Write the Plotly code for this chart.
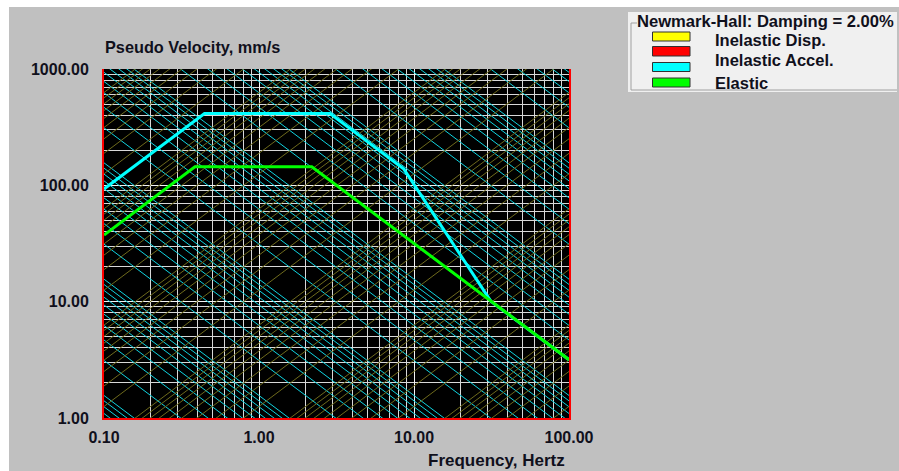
import numpy as np
import plotly.graph_objects as go

# ---------------- data ----------------
freq_tick_vals = [0.1, 1, 10, 100]
freq_tick_text = ["0.10", "1.00", "10.00", "100.00"]
vel_tick_vals = [1, 10, 100, 1000]
vel_tick_text = ["1.00", "10.00", "100.00", "1000.00"]

elastic_freq = [0.1, 0.386, 2.19, 100]
elastic_vel = [37.4, 144.6, 144.6, 3.17]

inel_accel_freq = [0.1, 0.445, 2.87, 8.6, 31.3, 100]
inel_accel_vel = [93.0, 414.0, 414.0, 138.0, 10.1, 3.17]

# tripartite grid levels
grid_digits = [1, 2, 3, 4, 5, 6, 7, 8, 9]
accel_exponents = [-5, -4, -3, -2, -1, 0, 1]   # g
disp_exponents = [-3, -2, -1, 0, 1, 2, 3]      # mm
G_MM = 9806.65

legend_title = "Newmark-Hall: Damping = 2.00%"
legend_labels = ["Inelastic Disp.", "Inelastic Accel.", "Elastic"]

# ---------------- geometry helpers (screen px, page margin removed) ----------------
W, H = 899, 471
L, R, T, B = 104, 569, 69, 418


def px(x):
    return (x - L) / (R - L)


def py(y):
    return (B - y) / (B - T)


FONT = "Liberation Sans, Arial, sans-serif"
TXT = "#10101c"

fig = go.Figure()

# diagonal acceleration lines (slope -1)
fx = [0.03, 300]
ax_x, ax_y = [], []
for e in accel_exponents:
    for d in grid_digits:
        a = d * 10.0 ** e * G_MM
        ax_x += fx + [None]
        ax_y += [a / (2 * np.pi * f) for f in fx] + [None]
fig.add_trace(go.Scatter(x=ax_x, y=ax_y, mode="lines",
                         line=dict(color="#10d4e0", width=1),
                         hoverinfo="skip", showlegend=False))

# diagonal displacement lines (slope +1)
dx_x, dx_y = [], []
for e in disp_exponents:
    for d in grid_digits:
        dd = d * 10.0 ** e
        dx_x += fx + [None]
        dx_y += [2 * np.pi * f * dd for f in fx] + [None]
fig.add_trace(go.Scatter(x=dx_x, y=dx_y, mode="lines",
                         line=dict(color="#6e6a1c", width=1),
                         hoverinfo="skip", showlegend=False))

# spectra
fig.add_trace(go.Scatter(x=inel_accel_freq, y=inel_accel_vel, mode="lines",
                         line=dict(color="#00ffff", width=3),
                         showlegend=False))
fig.add_trace(go.Scatter(x=elastic_freq, y=elastic_vel, mode="lines",
                         line=dict(color="#00ff00", width=3),
                         showlegend=False))

minor_f = [d * 10.0 ** e for e in [-1, 0, 1] for d in grid_digits[1:]]
minor_v = [d * 10.0 ** e for e in [0, 1, 2] for d in grid_digits[1:]]

fig.update_xaxes(type="log", range=[-1, 2],
                 tickvals=freq_tick_vals, ticktext=freq_tick_text,
                 tickfont=dict(family=FONT, size=16, color=TXT, weight="bold"),
                 ticks="outside", ticklen=4, tickcolor="rgba(0,0,0,0)",
                 showgrid=True, gridcolor="#f4f4f4", gridwidth=1,
                 minor=dict(tickvals=minor_f, showgrid=True, gridcolor="#d8d8d8",
                            gridwidth=1, ticks=""),
                 showline=True, linecolor="#ff0000", linewidth=2, mirror=False,
                 zeroline=False)
fig.update_yaxes(type="log", range=[0, 3],
                 tickvals=vel_tick_vals, ticktext=vel_tick_text,
                 tickfont=dict(family=FONT, size=16, color=TXT, weight="bold"),
                 ticks="outside", ticklen=10, tickcolor="rgba(0,0,0,0)",
                 showgrid=True, gridcolor="#f4f4f4", gridwidth=1,
                 minor=dict(tickvals=minor_v, showgrid=True, gridcolor="#d8d8d8",
                            gridwidth=1, ticks=""),
                 showline=True, linecolor="#ff0000", linewidth=2, mirror=True,
                 zeroline=False)

shapes = []
# white window strips at top and left
shapes.append(dict(type="rect", xref="paper", yref="paper", layer="below",
                   x0=px(0), x1=px(W), y0=py(7), y1=py(0),
                   fillcolor="#ffffff", line=dict(width=0)))
shapes.append(dict(type="rect", xref="paper", yref="paper", layer="below",
                   x0=px(0), x1=px(9), y0=py(H), y1=py(0),
                   fillcolor="#ffffff", line=dict(width=0)))
# legend panel
shapes.append(dict(type="rect", xref="paper", yref="paper",
                   x0=px(628), x1=px(897), y0=py(92), y1=py(12),
                   fillcolor="#f0f0f0", line=dict(width=0)))
# group box frame
shapes.append(dict(type="path", xref="paper", yref="paper",
                   path=f"M {px(637)} {py(23)} L {px(631)} {py(23)} L {px(631)} {py(90)} L {px(897)} {py(90)}",
                   line=dict(color="#a0a0a0", width=1)))
# swatches
sw_colors = ["#ffff00", "#ff0000", "#00ffff", "#00ff00"]
sw_y = [(32, 41), (46.5, 56), (62.5, 71.5), (78, 87)]
for c, (y0, y1) in zip(sw_colors, sw_y):
    shapes.append(dict(type="rect", xref="paper", yref="paper",
                       x0=px(652.5), x1=px(690), y0=py(y1), y1=py(y0),
                       fillcolor=c, line=dict(color="#303030", width=1)))

annotations = [
    dict(text="Pseudo Velocity, mm/s", x=px(104), y=py(47), xanchor="left", yanchor="middle", size=16.3),
    dict(text="Frequency, Hertz", x=px(566), y=py(460), xanchor="right", yanchor="middle", size=17),
    dict(text=legend_title, x=px(636), y=py(21.5), xanchor="left", yanchor="middle", size=16.6),
    dict(text=legend_labels[0], x=px(714), y=py(39.5), xanchor="left", yanchor="middle", size=16.5),
    dict(text=legend_labels[1], x=px(714), y=py(60), xanchor="left", yanchor="middle", size=16.5),
    dict(text=legend_labels[2], x=px(714), y=py(82.5), xanchor="left", yanchor="middle", size=16.5),
]
for a in annotations:
    s = a.pop("size")
    a.update(xref="paper", yref="paper", showarrow=False, borderpad=0,
             font=dict(family=FONT, size=s, color=TXT, weight="bold"))

fig.update_layout(width=W, height=H,
                  margin=dict(l=L, r=W - R, t=T, b=H - B, autoexpand=False),
                  paper_bgcolor="#c0c0c0", plot_bgcolor="#000000",
                  shapes=shapes, annotations=annotations, showlegend=False)

fig.write_html("out.html", default_width="899px", default_height="471px",
               config={"displayModeBar": False},
               post_script="document.body.style.margin='0';"
                           "document.body.style.padding='0';"
                           "document.documentElement.style.overflow='hidden';")
